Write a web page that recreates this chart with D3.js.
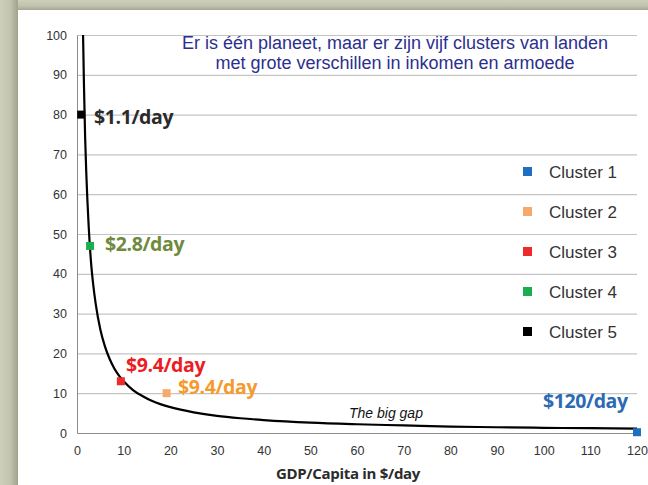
<!DOCTYPE html>
<html>
<head>
<meta charset="utf-8">
<script src="https://cdn.jsdelivr.net/npm/d3@7"></script>
<style>
  html, body { margin: 0; padding: 0; background: #fff; }
  svg { display: block; }
</style>
</head>
<body>
<div id="chart"></div>
<script>
// ---- data ----
const titleLines = ["Er is één planeet, maar er zijn vijf clusters van landen",
                    "met grote verschillen in inkomen en armoede"];
const xTicks = [0, 10, 20, 30, 40, 50, 60, 70, 80, 90, 100, 110, 120];
const yTicks = [0, 10, 20, 30, 40, 50, 60, 70, 80, 90, 100];
const curveX = [1.3, 1.5, 1.75, 2, 2.5, 3, 3.5, 4, 5, 6, 7, 8, 9, 10, 12, 14, 16, 18, 20, 25, 30, 35, 40, 50, 60, 70, 80, 90, 100, 110, 120];
const curveY = [100, 87, 74, 65, 52, 43, 37, 32.5, 26, 21.7, 18.6, 16.2, 14.4, 13, 10.8, 9.3, 8.1, 7.2, 6.5, 5.2, 4.3, 3.7, 3.25, 2.6, 2.2, 1.9, 1.6, 1.45, 1.3, 1.2, 1.1];
const clusterNames = ["Cluster 1", "Cluster 2", "Cluster 3", "Cluster 4", "Cluster 5"];
const clusterX = [120, 19.2, 9.4, 2.8, 0.9];
const clusterY = [0.2, 10, 13, 47, 80];
const clusterColors = ["#1f6fbf", "#f7a96c", "#ee2a2a", "#1aae4e", "#000000"];
const labelTexts = ["$120/day", "$9.4/day", "$9.4/day", "$2.8/day", "$1.1/day"];
const labelColors = ["#2c6bb3", "#f59b2e", "#ec1c24", "#6e8a3c", "#2b2b2b"];
const xTitle = "GDP/Capita in $/day";
const gapText = "The big gap";

// ---- layout ----
const W = 648, H = 485;
const svg = d3.select("#chart").append("svg").attr("width", W).attr("height", H);
const defs = svg.append("defs");
const gL = defs.append("linearGradient").attr("id", "gl").attr("x1", 0).attr("x2", 1).attr("y1", 0).attr("y2", 0);
gL.append("stop").attr("offset", "0%").attr("stop-color", "#cdcfbc");
gL.append("stop").attr("offset", "55%").attr("stop-color", "#c3c5b0");
gL.append("stop").attr("offset", "100%").attr("stop-color", "#9fa28b");
const gT = defs.append("linearGradient").attr("id", "gt").attr("x1", 0).attr("x2", 0).attr("y1", 0).attr("y2", 1);
gT.append("stop").attr("offset", "0%").attr("stop-color", "#cdcfbc");
gT.append("stop").attr("offset", "60%").attr("stop-color", "#c0c2ad");
gT.append("stop").attr("offset", "100%").attr("stop-color", "#a3a690");

svg.append("rect").attr("x", 0).attr("y", 0).attr("width", W).attr("height", 10).attr("fill", "url(#gt)");
svg.append("rect").attr("x", 0).attr("y", 0).attr("width", 18).attr("height", H).attr("fill", "url(#gl)");
svg.append("rect").attr("x", 18).attr("y", 10).attr("width", W - 18).attr("height", H - 10).attr("fill", "#ffffff");

const x = d3.scaleLinear().domain([0, 120]).range([77, 637]);
const y = d3.scaleLinear().domain([0, 100]).range([433, 35]);

// gridlines
svg.append("g").selectAll("line").data(yTicks.filter(d => d > 0)).join("line")
  .attr("x1", x(0)).attr("x2", x(120))
  .attr("y1", d => y(d) + 0.5).attr("y2", d => y(d) + 0.5)
  .attr("stroke", "#c4c4c4").attr("stroke-width", 1.2);

// axes
const yAxis = svg.append("g").attr("transform", `translate(${x(0)},0)`)
  .call(d3.axisLeft(y).tickValues(yTicks).tickSize(0).tickPadding(10));
const xAxis = svg.append("g").attr("transform", `translate(0,${y(0)})`)
  .call(d3.axisBottom(x).tickValues(xTicks).tickSize(0).tickPadding(13));
[xAxis, yAxis].forEach(a => {
  a.select(".domain").attr("stroke", "#8c8c8c").attr("stroke-width", 1);
  a.selectAll("text").attr("font-family", "Liberation Sans, Arial, sans-serif")
    .attr("font-size", 12.5).attr("fill", "#333");
});

// curve
const pts = curveX.map((v, i) => [v, curveY[i]]);
svg.append("path").datum(pts)
  .attr("d", d3.line().x(d => x(d[0])).y(d => y(d[1])).curve(d3.curveMonotoneX))
  .attr("fill", "none").attr("stroke", "#000").attr("stroke-width", 2.2);

// markers
const ms = 8;
svg.append("g").selectAll("rect").data(clusterNames).join("rect")
  .attr("x", (d, i) => x(clusterX[i]) - ms / 2)
  .attr("y", (d, i) => y(clusterY[i]) - ms / 2)
  .attr("width", ms).attr("height", ms)
  .attr("fill", (d, i) => clusterColors[i]);

// value labels
const labelPos = [[543, 408], [178, 394], [126, 372], [105, 251], [94, 124]];
svg.append("g").selectAll("text").data(labelTexts).join("text")
  .attr("x", (d, i) => labelPos[i][0]).attr("y", (d, i) => labelPos[i][1])
  .attr("font-family", "Open Sans, sans-serif").attr("font-weight", 700)
  .attr("font-size", 19.5).attr("letter-spacing", -0.4)
  .attr("fill", (d, i) => labelColors[i])
  .text(d => d);

// title
svg.append("g").selectAll("text").data(titleLines).join("text")
  .attr("x", 395).attr("y", (d, i) => 49 + i * 20)
  .attr("text-anchor", "middle")
  .attr("font-family", "Liberation Sans, Arial, sans-serif").attr("font-size", 18)
  .attr("fill", "#2b2f8f").text(d => d);

// legend
const lg = svg.append("g").selectAll("g").data(clusterNames).join("g")
  .attr("transform", (d, i) => `translate(523,${172 + i * 40})`);
lg.append("rect").attr("x", 0).attr("y", -5).attr("width", 9).attr("height", 9)
  .attr("fill", (d, i) => clusterColors[i]);
lg.append("text").attr("x", 26).attr("y", 6)
  .attr("font-family", "Liberation Sans, Arial, sans-serif").attr("font-size", 17)
  .attr("fill", "#333").text(d => d);

// big gap label
svg.append("text").attr("x", 349).attr("y", 418)
  .attr("font-family", "Liberation Sans, Arial, sans-serif").attr("font-style", "italic")
  .attr("font-size", 14).attr("fill", "#111").text(gapText);

// x title
svg.append("text").attr("x", 348).attr("y", 479).attr("text-anchor", "middle")
  .attr("font-family", "Open Sans, sans-serif").attr("font-weight", 700)
  .attr("font-size", 15).attr("letter-spacing", -0.3)
  .attr("fill", "#2b2b2b").text(xTitle);
</script>
</body>
</html>
